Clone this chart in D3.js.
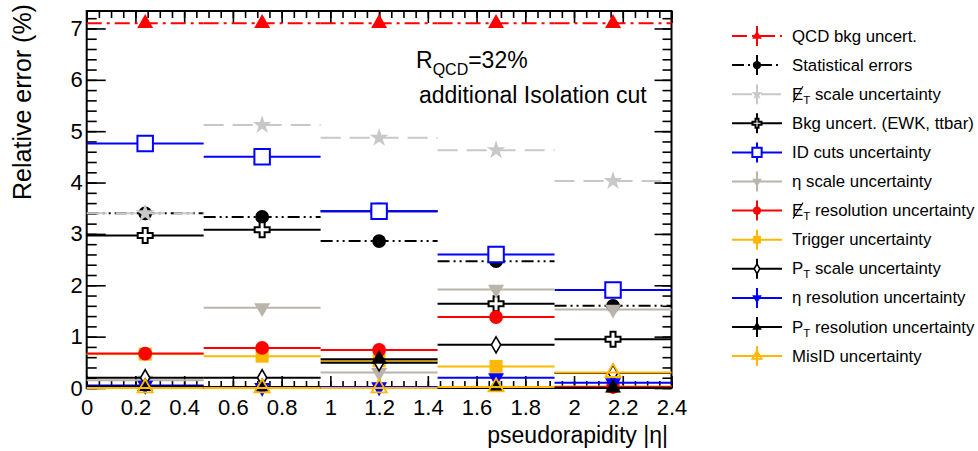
<!DOCTYPE html>
<html>
<head>
<meta charset="utf-8">
<script src="https://cdn.jsdelivr.net/npm/d3@7"></script>
<style>
  html, body { margin: 0; padding: 0; background: #fff; }
  svg { display: block; font-family: "Liberation Sans", Arial, Helvetica, sans-serif; }
</style>
</head>
<body>
<svg id="chart" width="978" height="451"></svg>
<script>
// |eta| bins
const binEdges   = [0, 0.48, 0.96, 1.44, 1.92, 2.4];
const binCenters = [0.24, 0.72, 1.2, 1.68, 2.16];

// Relative errors (%) per |eta| bin
const qcdBkg    = [7.1, 7.1, 7.1, 7.1, 7.1];
const statErr   = [3.4, 3.33, 2.86, 2.47, 1.6];
const metScale  = [3.4, 5.12, 4.87, 4.63, 4.03];
const bkgEwk    = [2.97, 3.08, 3.44, 1.64, 0.95];
const idCuts    = [4.76, 4.5, 3.44, 2.6, 1.91];
const etaScale  = [0.15, 1.56, 0.3, 1.92, 1.53];
const metRes    = [0.67, 0.78, 0.74, 1.38, 0.02];
const trigger   = [0.66, 0.62, 0.53, 0.42, 0.03];
const ptScale   = [0.2, 0.2, 0.49, 0.84, 0.29];
const etaRes    = [0.05, 0.01, 0.02, 0.2, 0.1];
const ptRes     = [0.03, 0.02, 0.56, 0.02, 0.0];
const misId     = [0.0, 0.0, 0.0, 0.02, 0.3];

// Axis ticks
const yMajorTicks = [0, 1, 2, 3, 4, 5, 6, 7];
const xMajorTicks = [0, 0.2, 0.4, 0.6, 0.8, 1, 1.2, 1.4, 1.6, 1.8, 2, 2.2, 2.4];
const xTickLabels = ["0", "0.2", "0.4", "0.6", "0.8", "1", "1.2", "1.4", "1.6", "1.8", "2", "2.2", "2.4"];

// Legend entries: [prefix, subscript, rest, slashed]
const legendLabels = [
  ["QCD bkg uncert.", "", "", false],
  ["Statistical errors", "", "", false],
  ["E", "T", " scale uncertainty", true],
  ["Bkg uncert. (EWK, ttbar)", "", "", false],
  ["ID cuts uncertainty", "", "", false],
  ["\u03b7 scale uncertainty", "", "", false],
  ["E", "T", " resolution uncertainty", true],
  ["Trigger uncertainty", "", "", false],
  ["P", "T", " scale uncertainty", false],
  ["\u03b7 resolution uncertainty", "", "", false],
  ["P", "T", " resolution uncertainty", false],
  ["MisID uncertainty", "", "", false]
];

const seriesValues = [qcdBkg, statErr, metScale, bkgEwk, idCuts, etaScale,
                      metRes, trigger, ptScale, etaRes, ptRes, misId];

// Drawing styles, same order as the series
const seriesStyles = [
  { color: "#ff0000", dash: "15,5,3,5",      marker: "triUp" },
  { color: "#000000", dash: "12,4,2,4,2,4",  marker: "circle" },
  { color: "#c8c8c8", dash: "20,9",          marker: "star" },
  { color: "#000000", dash: null,            marker: "crossOpen" },
  { color: "#0000ff", dash: null,            marker: "squareOpen" },
  { color: "#bab4aa", dash: null,            marker: "triDown" },
  { color: "#ff0000", dash: null,            marker: "circle" },
  { color: "#ffb800", dash: null,            marker: "square" },
  { color: "#000000", dash: null,            marker: "diamondOpen" },
  { color: "#0000ff", dash: null,            marker: "triDown" },
  { color: "#000000", dash: null,            marker: "triUp" },
  { color: "#ffb800", dash: null,            marker: "triUpOpen" }
];
// stacking order of the series on the canvas (trigger sits under the E_T resolution)
const drawOrder = [0, 1, 2, 3, 4, 5, 7, 6, 8, 9, 10, 11];

const svg = d3.select("#chart");
const frame = { left: 86.7, right: 671.5, top: 11, bottom: 388 };

const x = d3.scaleLinear().domain([0, 2.4]).range([frame.left, frame.right]);
const y = d3.scaleLinear().domain([0, 7.34]).range([frame.bottom, frame.top]);

// ---- axes / frame ----
const axisG = svg.append("g");
const font = "Liberation Sans, Arial, sans-serif";

const xMinor = d3.range(0, 2.4001, 0.05).map(v => +v.toFixed(2));
const yMinor = d3.range(0, 7.3401, 0.2).map(v => +v.toFixed(2));

function styleAxis(g) {
  g.select(".domain").remove();
  g.selectAll(".tick line").attr("stroke", "#000").attr("stroke-width", 1.6);
  g.selectAll("text").attr("fill", "#000").attr("font-family", font);
}

// bottom
axisG.append("g").attr("transform", `translate(0,${frame.bottom})`)
  .call(d3.axisBottom(x).tickValues(xMinor).tickSize(-7).tickFormat(""))
  .call(styleAxis);
axisG.append("g").attr("transform", `translate(0,${frame.bottom})`)
  .call(d3.axisBottom(x).tickValues(xMajorTicks).tickSize(-12).tickPadding(11)
        .tickFormat((d, i) => xTickLabels[i]))
  .call(styleAxis)
  .call(g => g.selectAll("text").attr("font-size", 22));
// top
axisG.append("g").attr("transform", `translate(0,${frame.top})`)
  .call(d3.axisTop(x).tickValues(xMinor).tickSize(-7).tickFormat(""))
  .call(styleAxis);
axisG.append("g").attr("transform", `translate(0,${frame.top})`)
  .call(d3.axisTop(x).tickValues(xMajorTicks).tickSize(-12).tickFormat(""))
  .call(styleAxis);
// left
axisG.append("g").attr("transform", `translate(${frame.left},0)`)
  .call(d3.axisLeft(y).tickValues(yMinor).tickSize(-10).tickFormat(""))
  .call(styleAxis);
axisG.append("g").attr("transform", `translate(${frame.left},0)`)
  .call(d3.axisLeft(y).tickValues(yMajorTicks).tickSize(-19).tickPadding(4)
        .tickFormat(d3.format("d")))
  .call(styleAxis)
  .call(g => g.selectAll("text").attr("font-size", 22));
// right
axisG.append("g").attr("transform", `translate(${frame.right},0)`)
  .call(d3.axisRight(y).tickValues(yMinor).tickSize(-9).tickFormat(""))
  .call(styleAxis);
axisG.append("g").attr("transform", `translate(${frame.right},0)`)
  .call(d3.axisRight(y).tickValues(yMajorTicks).tickSize(-17).tickFormat(""))
  .call(styleAxis);

axisG.append("rect")
  .attr("x", frame.left).attr("y", frame.top)
  .attr("width", frame.right - frame.left).attr("height", frame.bottom - frame.top)
  .attr("fill", "none").attr("stroke", "#000").attr("stroke-width", 2);

// ---- markers ----
function drawMarker(g, type, cx, cy, scale, color) {
  const s = scale;
  let sym, fill = color, stroke = "none", sw = 0, rot = 0;
  switch (type) {
    case "triUp":      sym = d3.symbolTriangle; break;
    case "triDown":    sym = d3.symbolTriangle; rot = 180; break;
    case "triUpOpen":  sym = d3.symbolTriangle; fill = "none"; stroke = color; sw = 1.8; break;
    case "circle":     sym = d3.symbolCircle; break;
    case "square":     sym = d3.symbolSquare; break;
    case "squareOpen": sym = d3.symbolSquare; fill = "#fff"; stroke = color; sw = 2; break;
    case "star":       sym = d3.symbolStar; break;
    case "crossOpen":  sym = d3.symbolCross; fill = "#fff"; stroke = color; sw = 2; break;
    case "diamondOpen":sym = d3.symbolDiamond; fill = "#fff"; stroke = color; sw = 1.6; break;
  }
  const sizes = { triUp: 110, triDown: 110, triUpOpen: 100, circle: 150, square: 170,
                  squareOpen: 240, star: 110, crossOpen: 125, diamondOpen: 75 };
  g.append("path")
    .attr("d", d3.symbol().type(sym).size(sizes[type] * s * s)())
    .attr("transform", `translate(${cx},${cy}) rotate(${rot})`)
    .attr("fill", fill).attr("stroke", stroke).attr("stroke-width", sw);
}

// ---- series ----
const dataG = svg.append("g");
drawOrder.forEach(si => {
  const vals = seriesValues[si];
  const st = seriesStyles[si];
  const g = dataG.append("g");
  vals.forEach((v, i) => {
    g.append("line")
      .attr("x1", x(binEdges[i])).attr("x2", x(binEdges[i + 1]))
      .attr("y1", y(v)).attr("y2", y(v))
      .attr("stroke", st.color).attr("stroke-width", 2)
      .attr("stroke-dasharray", st.dash);
  });
  vals.forEach((v, i) => drawMarker(g, st.marker, x(binCenters[i]), y(v), 1, st.color));
});

// ---- annotation ----
const ann = svg.append("g").attr("font-family", font).attr("fill", "#000");
const t1 = ann.append("text").attr("x", 416).attr("y", 68).attr("font-size", 23);
t1.append("tspan").text("R");
t1.append("tspan").attr("font-size", 16).attr("dy", 7).text("QCD");
t1.append("tspan").attr("dy", -7).text("=32%");
ann.append("text").attr("x", 419).attr("y", 103).attr("font-size", 23)
  .text("additional Isolation cut");

// ---- axis titles ----
svg.append("text")
  .attr("transform", "translate(31,102) rotate(-90)")
  .attr("text-anchor", "middle").attr("font-family", font).attr("font-size", 25)
  .text("Relative error (%)");
svg.append("text")
  .attr("x", 668).attr("y", 443).attr("text-anchor", "end")
  .attr("font-family", font).attr("font-size", 23)
  .text("pseudorapidity |\u03b7|");

// ---- legend ----
const leg = svg.append("g").attr("font-family", font);
const rowY = d => 36 + 29.1 * d;
legendLabels.forEach((lab, i) => {
  const st = seriesStyles[i];
  const cy = rowY(i);
  const g = leg.append("g");
  g.append("line").attr("x1", 732).attr("x2", 782).attr("y1", cy).attr("y2", cy)
    .attr("stroke", st.color).attr("stroke-width", 2).attr("stroke-dasharray", st.dash);
  g.append("line").attr("x1", 757).attr("x2", 757).attr("y1", cy - 10).attr("y2", cy + 10)
    .attr("stroke", st.color).attr("stroke-width", 2);
  drawMarker(g, st.marker, 757, cy, 0.6, st.color);
  const t = g.append("text").attr("x", 792).attr("y", cy + 5.5).attr("font-size", 16.8).attr("fill", "#000");
  t.append("tspan").text(lab[0]);
  if (lab[1]) {
    t.append("tspan").attr("font-size", 11.5).attr("dy", 4).text(lab[1]);
    t.append("tspan").attr("dy", -4).text(lab[2]);
  }
  if (lab[3]) {
    g.append("line").attr("x1", 793).attr("y1", cy + 8).attr("x2", 803).attr("y2", cy - 8)
      .attr("stroke", "#000").attr("stroke-width", 1.1);
  }
});
</script>
</body>
</html>
